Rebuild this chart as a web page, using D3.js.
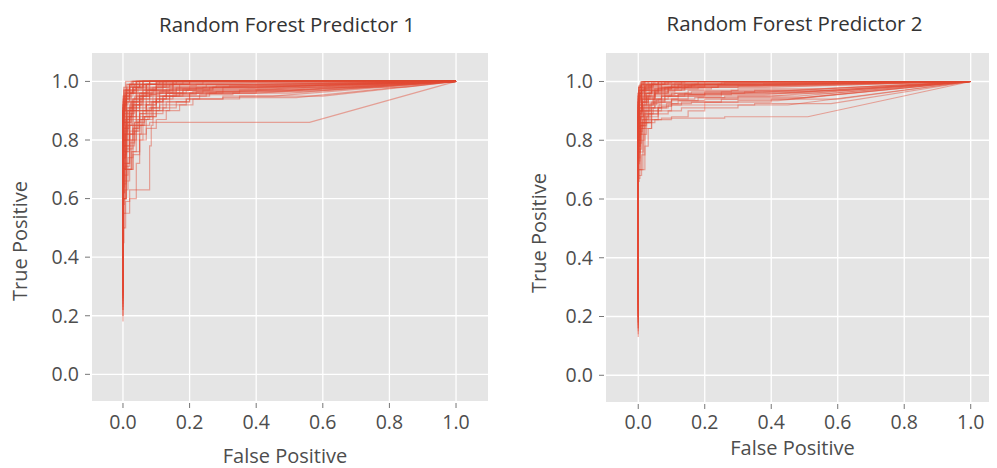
<!DOCTYPE html>
<html>
<head>
<meta charset="utf-8">
<script src="https://cdn.jsdelivr.net/npm/d3@7"></script>
<style>
  html, body { margin: 0; padding: 0; background: #ffffff; }
  svg { display: block; }
  text { font-family: "Open Sans", "Noto Sans", sans-serif; }
</style>
</head>
<body>
<svg id="chart" width="997" height="468"></svg>
<script>
// ROC curves of two random forest predictors, one curve per validation fold.
// Each curve: [fpr, tpr] corners; path rises vertically then runs right,
// and the final segment joins the last corner to (1, 1).

const panelTitles = ["Random Forest Predictor 1", "Random Forest Predictor 2"];
const xTickValues = [0, 0.2, 0.4, 0.6, 0.8, 1.0];
const yTickValues = [0, 0.2, 0.4, 0.6, 0.8, 1.0];
const xAxisLabel = "False Positive";
const yAxisLabel = "True Positive";

const predictor1Curves = [
  [[0,.18],[.004,.62],[.012,.8],[.025,.88],[.04,.93],[.07,.96],[.12,.98],[.22,1]],
  [[0,.22],[.006,.7],[.015,.84],[.03,.9],[.06,.94],[.1,.97],[.18,.99],[.35,.99]],
  [[0,.25],[.008,.5],[.02,.59],[.08,.63],[.085,.78],[.09,.85],[.12,.9],[.2,.94],[.35,.96],[.5,.97]],
  [[0,.3],[.01,.78],[.02,.86],[.05,.91],[.08,.95],[.15,.97],[.25,.99],[.45,.99]],
  [[0,.3],[.003,.45],[.02,.55],[.04,.6],[.05,.72],[.06,.8],[.08,.85],[.56,.86]],
  [[0,.35],[.005,.85],[.01,.92],[.03,.96],[.06,.98],[.1,1]],
  [[0,.4],[.01,.88],[.02,.93],[.04,.96],[.08,.985],[.2,1]],
  [[0,.28],[.004,.66],[.01,.75],[.03,.82],[.05,.87],[.09,.9],[.14,.93],[.25,.95],[.4,.96],[.6,.97]],
  [[0,.45],[.006,.9],[.02,.95],[.05,.98],[.09,1]],
  [[0,.33],[.01,.72],[.02,.8],[.04,.85],[.07,.9],[.11,.93],[.17,.96],[.28,.98],[.5,.985]],
  [[0,.5],[.002,.93],[.01,.97],[.03,.99],[.05,1]],
  [[0,.38],[.01,.82],[.03,.88],[.05,.92],[.07,.94],[.13,.96],[.2,.975],[.32,.985]],
  [[0,.2],[.004,.58],[.01,.66],[.02,.72],[.035,.78],[.05,.83],[.07,.88],[.1,.92],[.16,.95],[.27,.97],[.4,.98]],
  [[0,.42],[.005,.87],[.015,.92],[.03,.95],[.06,.97],[.12,.99],[.18,1]],
  [[0,.36],[.008,.8],[.02,.87],[.04,.9],[.06,.93],[.09,.95],[.14,.965],[.3,.975],[.85,.98]],
  [[0,.5],[.01,.9],[.04,.94],[.07,.97],[.1,.99],[.14,1]],
  [[0,.3],[.005,.76],[.015,.83],[.03,.87],[.05,.9],[.08,.92],[.11,.94],[.2,.95],[.28,.96],[.55,.965]],
  [[0,.44],[.003,.9],[.01,.95],[.02,.975],[.04,.99],[.07,1]],
  [[0,.26],[.006,.68],[.015,.76],[.03,.8],[.045,.84],[.065,.86],[.1,.88],[.13,.91],[.19,.93],[.35,.94],[.6,.95]],
  [[0,.55],[.004,.94],[.02,.97],[.05,.99],[.12,1]],
  [[0,.32],[.01,.84],[.025,.9],[.045,.93],[.07,.96],[.12,.975],[.25,.98],[.42,.99]],
  [[0,.48],[.005,.91],[.015,.95],[.04,.97],[.08,.98],[.16,.99],[.26,1]],
  [[0,.24],[.01,.6],[.025,.7],[.04,.8],[.06,.85],[.085,.9],[.12,.93],[.18,.95],[.3,.97],[.45,.975]],
  [[0,.4],[.003,.83],[.01,.9],[.02,.94],[.035,.96],[.06,.975],[.1,.99],[.3,.995]],
  [[0,.29],[.007,.74],[.02,.82],[.04,.88],[.06,.92],[.1,.955],[.15,.97],[.22,.985],[.38,.99]],
  [[0,.52],[.002,.95],[.008,.98],[.02,1]],
  [[0,.34],[.01,.86],[.03,.91],[.055,.94],[.09,.96],[.16,.97],[.26,.98]],
  [[0,.37],[.004,.8],[.012,.86],[.022,.9],[.04,.93],[.075,.95],[.1,.97],[.14,.98],[.2,.99],[.29,1]],
  [[0,.46],[.006,.89],[.02,.93],[.03,.96],[.05,.98],[.08,.99],[.11,1]],
  [[0,.27],[.005,.64],[.02,.71],[.035,.79],[.05,.86],[.08,.89],[.1,.91],[.14,.94],[.24,.96],[.35,.97]],
  [[0,.41],[.01,.92],[.03,.96],[.06,.98],[.1,.99],[.25,.995]],
  [[0,.31],[.008,.78],[.02,.85],[.03,.89],[.05,.91],[.08,.94],[.12,.96],[.2,.97],[.36,.975]],
  [[0,.5],[.004,.88],[.01,.93],[.03,.97],[.045,.99],[.09,1]],
  [[0,.23],[.005,.62],[.012,.7],[.02,.78],[.04,.85],[.06,.9],[.09,.93],[.13,.95],[.21,.96],[.45,.965]],
  [[0,.43],[.008,.9],[.02,.94],[.04,.96],[.07,.98],[.13,.99],[.2,1]],
  [[0,.35],[.005,.7],[.012,.78],[.02,.84],[.03,.88],[.05,.92],[.07,.95],[.1,.97],[.15,.985],[.25,1]],
  [[0,.28],[.01,.65],[.02,.72],[.03,.77],[.045,.83],[.06,.87],[.09,.9],[.12,.93],[.17,.95],[.3,.96],[.5,.97]],
  [[0,.45],[.003,.86],[.008,.91],[.015,.94],[.03,.965],[.05,.98],[.08,.99],[.13,1]],
  [[0,.32],[.006,.74],[.015,.8],[.025,.85],[.035,.89],[.055,.92],[.08,.94],[.11,.955],[.16,.965],[.24,.975],[.4,.98]],
  [[0,.2],[.003,.5],[.01,.6],[.02,.66],[.03,.7],[.05,.75],[.07,.82],[.09,.87],[.11,.9],[.14,.92],[.2,.93],[.3,.94],[.52,.945]],
  [[0,.52],[.002,.9],[.006,.95],[.015,.98],[.03,.99],[.06,1]],
  [[0,.38],[.004,.78],[.01,.84],[.02,.89],[.035,.92],[.06,.95],[.09,.97],[.13,.98],[.2,.99],[.3,1]],
  [[0,.3],[.008,.7],[.02,.76],[.035,.82],[.05,.86],[.07,.89],[.1,.92],[.13,.94],[.19,.96],[.26,.97],[.38,.98]],
  [[0,.48],[.004,.92],[.012,.96],[.025,.98],[.05,1]],
  [[0,.26],[.006,.55],[.015,.63],[.025,.7],[.04,.76],[.055,.82],[.075,.87],[.1,.91],[.13,.94],[.18,.96],[.27,.975],[.45,.98]],
  [[0,.42],[.005,.84],[.012,.89],[.025,.93],[.045,.96],[.07,.975],[.11,.99],[.16,1]],
  [[0,.34],[.01,.8],[.02,.86],[.03,.9],[.05,.93],[.08,.96],[.12,.98],[.18,.99],[.24,1]],
  [[0,.22],[.007,.6],[.015,.68],[.03,.74],[.05,.8],[.065,.85],[.085,.88],[.11,.91],[.15,.94],[.22,.955],[.33,.965]],
  [[0,.5],[.003,.91],[.01,.94],[.02,.97],[.04,.985],[.07,1]],
  [[0,.36],[.005,.8],[.015,.87],[.03,.91],[.05,.94],[.075,.96],[.1,.975],[.15,.985],[.22,1]],
  [[0,.4],[.003,.86],[.01,.92],[.02,.95],[.04,.97],[.06,.99],[.1,1]],
  [[0,.29],[.01,.7],[.02,.78],[.03,.83],[.05,.88],[.07,.91],[.1,.94],[.15,.96],[.22,.97],[.32,.98],[.48,.985]],
  [[0,.46],[.004,.88],[.01,.93],[.02,.96],[.035,.98],[.06,.99],[.09,1]],
  [[0,.31],[.006,.76],[.014,.82],[.025,.86],[.04,.9],[.06,.93],[.085,.95],[.12,.97],[.17,.98],[.24,.99],[.34,1]],
  [[0,.44],[.002,.89],[.008,.94],[.02,.97],[.04,.99],[.08,1]],
  [[0,.3],[.01,.6],[.03,.7],[.05,.76],[.07,.8],[.1,.84],[.13,.87],[.17,.9],[.21,.92],[.3,.94],[.45,.95]],
  [[0,.33],[.01,.74],[.03,.8],[.05,.84],[.08,.87],[.12,.89],[.16,.91],[.2,.93],[.26,.95],[.4,.96]],
  [[0,.27],[.008,.7],[.02,.77],[.04,.82],[.06,.85],[.1,.88],[.14,.9],[.19,.92],[.23,.94],[.33,.955],[.5,.96]]
];

const predictor2Curves = [
  [[0,.13],[.004,.72],[.01,.85],[.02,.9],[.05,.94],[.09,.96],[.2,.98],[.4,.99]],
  [[0,.2],[.003,.85],[.008,.92],[.02,.95],[.04,.97],[.08,.99],[.15,1]],
  [[0,.25],[.005,.8],[.02,.85],[.07,.87],[.26,.875],[.51,.88]],
  [[0,.3],[.002,.9],[.01,.94],[.03,.97],[.06,.985],[.12,1]],
  [[0,.18],[.01,.68],[.02,.75],[.04,.84],[.06,.88],[.1,.9],[.2,.92],[.4,.93],[.6,.94]],
  [[0,.35],[.003,.92],[.01,.96],[.02,.98],[.05,1]],
  [[0,.22],[.006,.82],[.015,.88],[.03,.91],[.05,.93],[.08,.95],[.15,.96],[.3,.97],[.55,.975]],
  [[0,.4],[.002,.95],[.01,.97],[.03,.99],[.05,1]],
  [[0,.28],[.005,.86],[.012,.9],[.025,.93],[.04,.95],[.07,.965],[.12,.975],[.2,.985],[.35,.99]],
  [[0,.15],[.003,.66],[.014,.7],[.02,.8],[.035,.86],[.06,.89],[.09,.91],[.13,.92],[.25,.93],[.45,.94]],
  [[0,.45],[.002,.96],[.01,.98],[.02,.99],[.04,1]],
  [[0,.32],[.004,.88],[.01,.92],[.02,.95],[.04,.96],[.07,.975],[.14,.98],[.25,.99],[.45,.995]],
  [[0,.26],[.006,.78],[.015,.85],[.025,.89],[.045,.92],[.07,.94],[.11,.955],[.2,.96],[.35,.965],[.62,.97]],
  [[0,.38],[.003,.91],[.008,.95],[.02,.97],[.045,.985],[.09,1]],
  [[0,.2],[.005,.74],[.012,.83],[.03,.87],[.06,.9],[.1,.92],[.18,.935],[.3,.945],[.48,.95]],
  [[0,.42],[.002,.94],[.006,.97],[.015,.985],[.03,.995],[.06,1]],
  [[0,.3],[.004,.84],[.01,.89],[.025,.92],[.05,.945],[.09,.96],[.14,.97],[.24,.98],[.4,.985]],
  [[0,.24],[.005,.8],[.02,.86],[.04,.9],[.07,.93],[.12,.95],[.2,.955],[.3,.96]],
  [[0,.5],[.003,.95],[.01,.98],[.03,1]],
  [[0,.27],[.004,.87],[.012,.91],[.02,.94],[.035,.96],[.06,.975],[.1,.985],[.18,.99],[.28,1]],
  [[0,.19],[.006,.7],[.01,.79],[.025,.85],[.04,.88],[.07,.9],[.1,.915],[.16,.925],[.3,.93],[.42,.935]],
  [[0,.36],[.002,.9],[.006,.94],[.015,.96],[.03,.975],[.06,.99],[.1,.995],[.16,1]],
  [[0,.33],[.005,.85],[.015,.9],[.03,.93],[.05,.95],[.08,.97],[.13,.98],[.22,.985]],
  [[0,.16],[.004,.76],[.01,.82],[.02,.86],[.035,.89],[.05,.91],[.08,.93],[.12,.94],[.2,.95],[.38,.955]],
  [[0,.44],[.003,.93],[.01,.96],[.025,.98],[.05,.99],[.08,1]],
  [[0,.29],[.005,.89],[.015,.93],[.03,.95],[.06,.97],[.11,.98],[.2,.99]],
  [[0,.21],[.01,.77],[.02,.84],[.03,.88],[.05,.91],[.08,.935],[.14,.95],[.25,.96],[.5,.965]],
  [[0,.37],[.003,.92],[.01,.95],[.02,.97],[.04,.98],[.07,.99],[.12,.995]],
  [[0,.23],[.006,.83],[.02,.88],[.035,.91],[.06,.925],[.09,.94],[.15,.95],[.28,.955],[.58,.96]],
  [[0,.48],[.002,.96],[.008,.98],[.018,.995],[.03,1]],
  [[0,.31],[.004,.86],[.01,.91],[.02,.94],[.04,.96],[.08,.97],[.16,.98],[.3,.985]],
  [[0,.17],[.005,.73],[.015,.8],[.03,.86],[.045,.89],[.07,.91],[.1,.93],[.17,.94],[.26,.945],[.4,.95]],
  [[0,.4],[.002,.93],[.01,.96],[.02,.975],[.04,.985],[.09,.99],[.2,1]],
  [[0,.26],[.004,.88],[.012,.92],[.025,.945],[.05,.96],[.09,.975],[.15,.98],[.35,.985]],
  [[0,.34],[.003,.9],[.01,.935],[.02,.955],[.035,.97],[.07,.98],[.11,.99],[.22,.995]],
  [[0,.22],[.003,.8],[.01,.87],[.02,.91],[.035,.94],[.06,.96],[.1,.975],[.17,.985],[.3,.99]],
  [[0,.3],[.002,.88],[.008,.93],[.018,.96],[.035,.975],[.06,.99],[.1,1]],
  [[0,.14],[.005,.67],[.02,.7],[.03,.78],[.04,.84],[.06,.87],[.09,.89],[.13,.9],[.2,.91],[.35,.92],[.58,.925]],
  [[0,.4],[.002,.94],[.006,.97],[.015,.985],[.03,1]],
  [[0,.25],[.004,.84],[.012,.89],[.025,.92],[.045,.94],[.07,.955],[.11,.965],[.18,.975],[.3,.98],[.5,.985]],
  [[0,.35],[.002,.92],[.008,.95],[.02,.97],[.04,.985],[.07,.995],[.12,1]],
  [[0,.18],[.006,.76],[.014,.82],[.025,.86],[.04,.89],[.065,.91],[.1,.93],[.15,.94],[.25,.95],[.42,.96]],
  [[0,.45],[.001,.95],[.005,.98],[.012,.99],[.025,1]],
  [[0,.28],[.004,.86],[.01,.9],[.02,.93],[.035,.95],[.06,.965],[.1,.975],[.16,.985],[.26,.99],[.4,.995]],
  [[0,.2],[.005,.78],[.012,.84],[.02,.87],[.035,.9],[.055,.92],[.08,.94],[.12,.95],[.2,.955],[.32,.96],[.56,.965]],
  [[0,.38],[.003,.93],[.01,.96],[.02,.975],[.04,.99],[.07,1]],
  [[0,.3],[.005,.87],[.012,.91],[.025,.94],[.04,.96],[.07,.97],[.12,.98],[.2,.99],[.32,1]],
  [[0,.16],[.004,.7],[.015,.76],[.025,.82],[.04,.86],[.06,.89],[.085,.91],[.12,.925],[.2,.935],[.3,.94],[.5,.945]],
  [[0,.42],[.002,.93],[.007,.96],[.017,.98],[.035,.99],[.05,1]],
  [[0,.27],[.006,.83],[.015,.88],[.03,.92],[.05,.94],[.08,.96],[.13,.97],[.22,.975],[.38,.98]],
  [[0,.33],[.003,.9],[.01,.94],[.02,.96],[.04,.975],[.07,.985],[.13,.99],[.25,1]],
  [[0,.24],[.005,.81],[.015,.86],[.03,.9],[.045,.92],[.07,.94],[.1,.95],[.16,.96],[.28,.965],[.45,.97]],
  [[0,.46],[.002,.96],[.008,.985],[.02,1]],
  [[0,.29],[.004,.85],[.012,.9],[.03,.93],[.05,.95],[.09,.965],[.14,.975],[.24,.98],[.42,.99]],
  [[0,.36],[.003,.91],[.01,.945],[.025,.965],[.045,.98],[.08,.99],[.14,.995],[.2,1]],
  [[0,.21],[.006,.79],[.02,.84],[.05,.86],[.1,.87],[.15,.88],[.2,.9],[.3,.91],[.45,.92]]
];

const panels = [
  { title: panelTitles[0], curves: predictor1Curves,
    left: 92, right: 488, top: 53, bottom: 401,
    xDomain: [-0.093, 1.096], yDomain: [-0.091, 1.097],
    titleY: 32, tickLabelY: 429, xLabelY: 463, yLabelX: 27, yLabelY: 241, yTickEnd: 79 },
  { title: panelTitles[1], curves: predictor2Curves,
    left: 606, right: 989, top: 53, bottom: 402,
    xDomain: [-0.097, 1.055], yDomain: [-0.091, 1.097],
    titleY: 31, tickLabelY: 429, xLabelY: 455, yLabelX: 546, yLabelY: 233, yTickEnd: 593 }
];

const svg = d3.select("#chart");
const lineColor = "#E24A33";
const fmt = d3.format(".1f");

panels.forEach((p, i) => {
  const x = d3.scaleLinear().domain(p.xDomain).range([p.left, p.right]);
  const y = d3.scaleLinear().domain(p.yDomain).range([p.bottom, p.top]);
  const g = svg.append("g");

  g.append("clipPath").attr("id", "clip" + i)
    .append("rect").attr("x", p.left).attr("y", p.top)
    .attr("width", p.right - p.left).attr("height", p.bottom - p.top);

  g.append("rect").attr("x", p.left).attr("y", p.top)
    .attr("width", p.right - p.left).attr("height", p.bottom - p.top)
    .attr("fill", "#e5e5e5");

  // grid
  g.selectAll(".vg").data(xTickValues).join("line")
    .attr("x1", d => x(d)).attr("x2", d => x(d))
    .attr("y1", p.top).attr("y2", p.bottom)
    .attr("stroke", "#ffffff").attr("stroke-width", 1.3);
  g.selectAll(".hg").data(yTickValues).join("line")
    .attr("y1", d => y(d)).attr("y2", d => y(d))
    .attr("x1", p.left).attr("x2", p.right)
    .attr("stroke", "#ffffff").attr("stroke-width", 1.3);

  // ROC curves
  const step = d3.line().x(d => x(d[0])).y(d => y(d[1])).curve(d3.curveStepBefore);
  g.append("g").attr("clip-path", `url(#clip${i})`)
    .selectAll("path").data(p.curves).join("path")
    .attr("d", c => step(c) + `L${x(1)},${y(1)}`)
    .attr("fill", "none")
    .attr("stroke", lineColor)
    .attr("stroke-opacity", 0.45)
    .attr("stroke-width", 1.2);

  // x ticks
  g.selectAll(".xt").data(xTickValues).join("line")
    .attr("x1", d => x(d)).attr("x2", d => x(d))
    .attr("y1", p.bottom + 2).attr("y2", p.bottom + 7)
    .attr("stroke", "#777").attr("stroke-width", 1);
  g.selectAll(".xl").data(xTickValues).join("text")
    .attr("x", d => x(d)).attr("y", p.tickLabelY)
    .attr("text-anchor", "middle").attr("font-size", 19.5).attr("fill", "#4d4d4d")
    .text(d => fmt(d));

  // y ticks
  g.selectAll(".yt").data(yTickValues).join("line")
    .attr("y1", d => y(d)).attr("y2", d => y(d))
    .attr("x1", p.left - 7).attr("x2", p.left - 2)
    .attr("stroke", "#777").attr("stroke-width", 1);
  g.selectAll(".yl").data(yTickValues).join("text")
    .attr("x", p.yTickEnd).attr("y", d => y(d)).attr("dy", "0.35em")
    .attr("text-anchor", "end").attr("font-size", 19.5).attr("fill", "#4d4d4d")
    .text(d => fmt(d));

  // titles and axis labels
  g.append("text").attr("x", (p.left + p.right) / 2 - 3).attr("y", p.titleY)
    .attr("text-anchor", "middle").attr("font-size", 20.5).attr("fill", "#333")
    .text(p.title);
  g.append("text").attr("x", (p.left + p.right) / 2 - 5).attr("y", p.xLabelY)
    .attr("text-anchor", "middle").attr("font-size", 20).attr("fill", "#4d4d4d")
    .text(xAxisLabel);
  g.append("text")
    .attr("transform", `translate(${p.yLabelX},${p.yLabelY}) rotate(-90)`)
    .attr("text-anchor", "middle").attr("font-size", 20).attr("fill", "#4d4d4d")
    .text(yAxisLabel);
});
</script>
</body>
</html>
